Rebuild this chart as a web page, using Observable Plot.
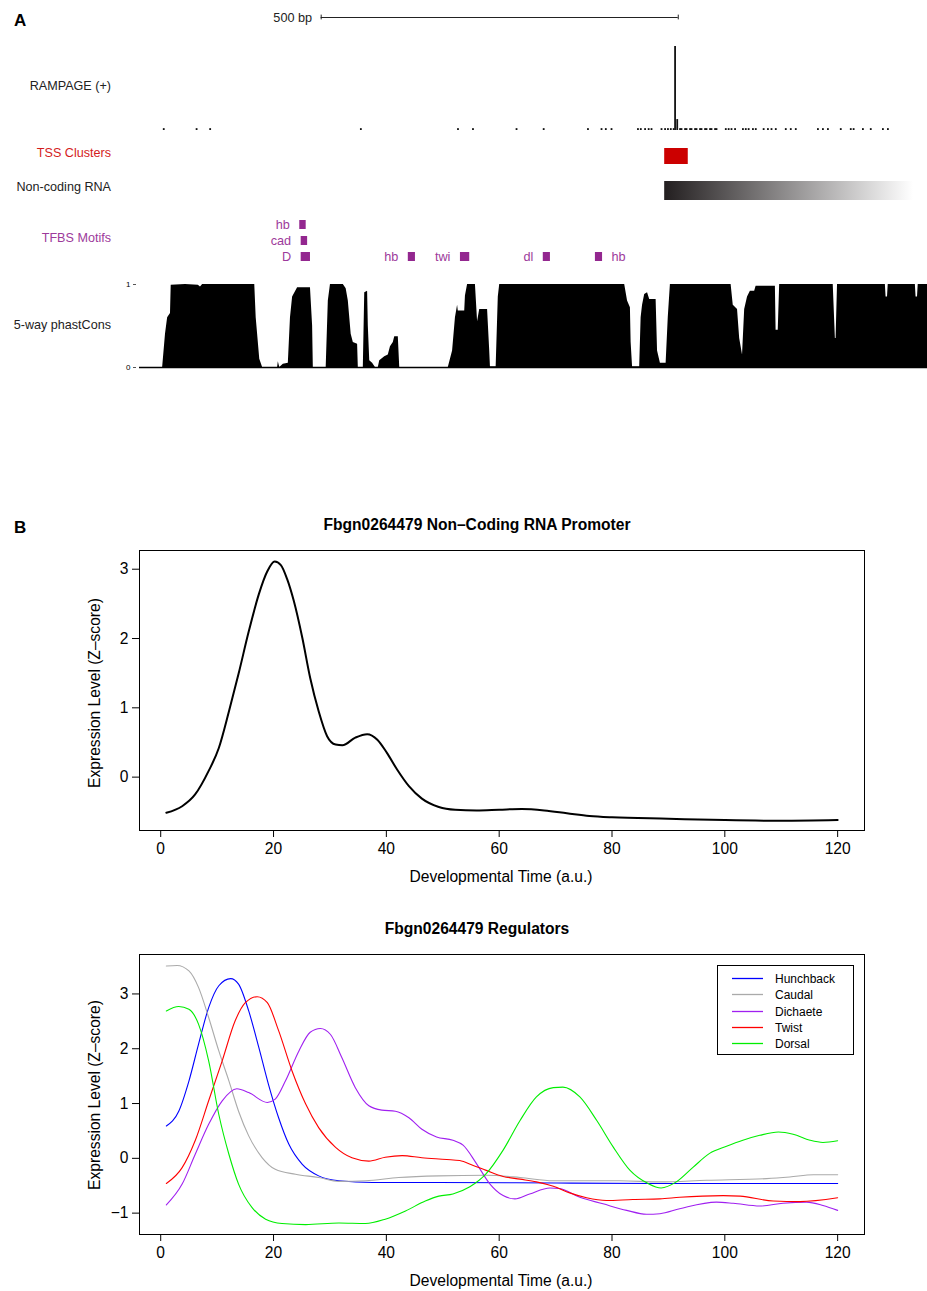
<!DOCTYPE html>
<html><head><meta charset="utf-8">
<script src="https://cdn.jsdelivr.net/npm/d3@7"></script>
<script src="https://cdn.jsdelivr.net/npm/@observablehq/plot@0.6"></script>
<style>
body{margin:0;background:#fff;}
#page{position:relative;width:927px;height:1291px;overflow:hidden;font-family:"Liberation Sans",Arial,Helvetica,sans-serif;color:#000;}
.t{position:absolute;white-space:nowrap;line-height:1;}
</style></head><body><div id="page"></div>
<script>
// ---------------- DATA ----------------
// Panel A: genome browser (positions in bp from left edge of the window)
const trackLen = 1102;
const scaleBarStart = 253, scaleBarLen = 500, scaleBarLabel = "500 bp";
const trackNames = ["RAMPAGE (+)", "TSS Clusters", "Non-coding RNA", "TFBS Motifs", "5-way phastCons"];
const rampageBin = 2.5;
const rampageSignal = [[32,2.2],[78,2.2],[97,2.2],[308,2.2],[444,2.2],[465,2.2],[526,2.2],[564,2.2],[626,2.2],[645,2.2],[651,2.2],[659,2.2],[696,2.2],[700,2.2],[706,2.2],[711,2.2],[715,2.2],[729,2.2],[734,2.2],[738,2.2],[742,2.2],[746,2.2],[748,100],[751,13],[755,2.2],[757,2.2],[762,2.2],[764,2.2],[769,2.2],[771,2.2],[776,2.2],[778,2.2],[783,2.2],[785,2.2],[790,2.2],[792,2.2],[797,2.2],[799,2.2],[804,2.2],[806,2.2],[819,2.2],[823,2.2],[827,2.2],[832,2.2],[843,2.2],[847,2.2],[851,2.2],[857,2.2],[861,2.2],[872,2.2],[878,2.2],[883,2.2],[889,2.2],[903,2.2],[910,2.2],[917,2.2],[948,2.2],[955,2.2],[962,2.2],[980,2.2],[994,2.2],[998,2.2],[1011,2.2],[1022,2.2],[1039,2.2],[1046,2.2]];
const tssClusters = [{start:734, end:767}];
const ncRNA = [{start:734, end:1102}];
const motifNames = ["hb","cad","D","hb","twi","dl","hb"];
const motifStart = [223,225,225,375,448,564,637];
const motifEnd   = [232,234,238,385,461,574,647];
const motifRow   = [0,1,2,2,2,2,2];
const motifLabelSide = ["left","left","left","left","left","left","right"];
const phastCons = [[0,0],[31,0],[35,0.4],[38,0.6],[42,0.65],[43,0.99],[63,1],[81,0.99],[84,0.97],[87,1],[160,1],[162,0.6],[167,0.1],[171,0],[192,0],[193,0.07],[195,0],[200,0.04],[207,0.05],[210,0.6],[213,0.85],[220,0.96],[238,0.96],[241,0.5],[242,0],[260,0],[263,0.8],[266,1],[284,1],[288,0.95],[291,0.8],[295,0.4],[298,0.3],[304,0.28],[305,0],[312,0],[314,0.9],[318,0.92],[319,0.5],[321,0.08],[325,0.05],[329,0],[333,0],[335,0.08],[342,0.13],[347,0.15],[350,0.25],[354,0.3],[356,0.37],[361,0.37],[363,0],[431,0],[437,0.2],[441,0.6],[444,0.75],[445,0.68],[454,0.68],[455,0.86],[458,1],[469,1],[472,0.55],[475,0.7],[486,0.7],[489,0.2],[490,0.01],[498,0.01],[501,0.85],[503,1],[678,1],[682,0.8],[686,0.72],[687,0.3],[689,0.01],[699,0.01],[701,0.6],[703,0.75],[706,0.88],[710,0.9],[713,0.82],[722,0.82],[724,0.2],[728,0.05],[736,0.05],[739,0.6],[742,1],[827,1],[830,0.75],[836,0.7],[839,0.35],[843,0.15],[846,0.7],[850,0.85],[854,0.92],[860,0.92],[862,0.98],[889,0.98],[890,0.45],[893,0.45],[895,1],[970,1],[973,0.35],[974,0.35],[976,1],[1043,1],[1044,0.85],[1046,0.85],[1047,1],[1085,1],[1086,0.85],[1088,0.85],[1089,1],[1102,1]];
const phastTicks = [0, 1];

// Panel B
const titleB1 = "Fbgn0264479 Non\u2013Coding RNA Promoter";
const titleB2 = "Fbgn0264479 Regulators";
const xLabel = "Developmental Time (a.u.)";
const yLabel = "Expression Level (Z\u2013score)";
const xTicks = [0,20,40,60,80,100,120];
const yTicksB1 = [0,1,2,3];
const yTicksB2 = [-1,0,1,2,3];
const promoter = [[1,-0.515],[3.8,-0.42],[6.1,-0.25],[8.5,0.09],[10.3,0.42],[12.1,0.95],[13.8,1.49],[15.6,2.1],[17.4,2.64],[18.9,2.97],[20.2,3.11],[21.3,3.06],[22.4,2.86],[23.6,2.54],[25.1,2.01],[26.5,1.43],[28,0.95],[29.5,0.59],[31,0.47],[32.2,0.46],[34.5,0.57],[36.6,0.62],[38.4,0.54],[40.1,0.35],[41.9,0.11],[44,-0.13],[46.3,-0.31],[49.3,-0.43],[52.2,-0.47],[56,-0.48],[60,-0.47],[64,-0.46],[68,-0.48],[72,-0.52],[76,-0.56],[80,-0.58],[90,-0.6],[100,-0.62],[110,-0.63],[120,-0.62]];
const seriesNames = ["Hunchback","Caudal","Dichaete","Twist","Dorsal"];
const seriesColors = ["#0000ff","#aaaaaa","#a020f0","#ff0000","#00ee00"];
const hunchback = [[1,0.59],[3.2,0.86],[5,1.41],[6.7,2.08],[8.5,2.75],[10.3,3.15],[12.4,3.28],[13.8,3.18],[15.6,2.69],[17.4,2.02],[19.1,1.35],[20.9,0.74],[22.7,0.26],[25.1,-0.11],[28,-0.32],[31.6,-0.41],[37.5,-0.44],[49,-0.44],[70,-0.45],[90,-0.46],[120,-0.46]];
const caudal = [[1,3.51],[2.9,3.52],[5,3.42],[6.7,3.12],[8.5,2.57],[10.3,1.96],[12.1,1.41],[13.8,0.86],[15.6,0.41],[18,0.01],[20.3,-0.2],[23.9,-0.29],[28,-0.35],[31.6,-0.42],[36.3,-0.41],[42.2,-0.35],[49.3,-0.32],[57.7,-0.31],[63.7,-0.35],[69.6,-0.41],[81.4,-0.41],[88.5,-0.43],[96.8,-0.4],[107.4,-0.37],[111.5,-0.34],[115.7,-0.3],[120,-0.3]];
const dichaete = [[1,-0.85],[3.8,-0.47],[6.1,0.07],[8.5,0.62],[10.9,1.05],[13.5,1.27],[15.6,1.2],[18.9,1.02],[20.3,1.08],[22.1,1.41],[24.5,1.96],[26.5,2.3],[28.3,2.37],[30.1,2.26],[32.1,1.84],[34.5,1.29],[36.9,0.96],[39.2,0.88],[41.6,0.86],[44,0.74],[46.3,0.53],[48.9,0.39],[51.8,0.33],[53.6,0.24],[56,-0.1],[58.3,-0.46],[60.7,-0.68],[62.8,-0.74],[65.4,-0.65],[69,-0.54],[70.7,-0.55],[74.3,-0.71],[78.4,-0.83],[82.6,-0.95],[86.1,-1.02],[88.5,-1.01],[92,-0.92],[98.5,-0.8],[101.5,-0.82],[106.2,-0.87],[110.3,-0.82],[114.5,-0.8],[117.4,-0.86],[120,-0.95]];
const twist = [[1,-0.46],[3.8,-0.17],[6.1,0.32],[8.5,1.05],[10.9,1.78],[13.2,2.51],[15,2.84],[17.1,2.95],[18.9,2.84],[20.9,2.33],[23.3,1.59],[25.7,0.99],[28,0.56],[31,0.2],[33.9,0.01],[36.9,-0.05],[39.8,0.02],[42.8,0.05],[46.3,0.01],[50.7,-0.02],[53,-0.04],[55.4,-0.13],[57.7,-0.22],[60.7,-0.33],[63.7,-0.38],[66.6,-0.43],[69.6,-0.51],[72.5,-0.63],[75.5,-0.72],[79,-0.77],[83.7,-0.75],[88.5,-0.74],[92,-0.71],[99.7,-0.68],[102.7,-0.69],[108.6,-0.78],[113.3,-0.79],[120,-0.72]];
const dorsal = [[1,2.69],[3.2,2.77],[5,2.72],[6.7,2.45],[8.5,1.78],[10.3,0.8],[12.1,0.07],[13.8,-0.47],[16.2,-0.9],[18.6,-1.11],[21.5,-1.19],[25.7,-1.21],[31.6,-1.18],[36.3,-1.19],[39.8,-1.11],[43.4,-0.96],[46.9,-0.78],[49.3,-0.69],[51.8,-0.65],[54.8,-0.52],[57.7,-0.28],[60.7,0.15],[63.7,0.69],[66.6,1.12],[69.6,1.29],[71.3,1.3],[74.3,1.12],[77.3,0.69],[80.2,0.21],[83.2,-0.22],[86.4,-0.46],[88.7,-0.54],[91.4,-0.43],[94.4,-0.16],[97.3,0.09],[100.3,0.22],[103.2,0.33],[106.2,0.42],[109.5,0.48],[112.1,0.44],[115.1,0.33],[117.4,0.29],[120,0.32]];
const regulatorSeries = [hunchback, caudal, dichaete, twist, dorsal];

// ---------------- RENDER ----------------
const FONT = '"Liberation Sans", Arial, Helvetica, sans-serif';
const SVGNS = "http://www.w3.org/2000/svg";
const page = document.getElementById("page");
const MOTIF = "#93278f", MOTIF_TXT = "#9d3a9b", TSS_RED = "#cc0000";
const CURVE = "monotone-x";

function place(svg, top) { svg.style.position = "absolute"; svg.style.left = "0px"; svg.style.top = top + "px"; page.appendChild(svg); return svg; }
function label(text, x, y, anchor, style) {
  const d = document.createElement("div"); d.className = "t"; d.textContent = text;
  d.style.left = x + "px"; d.style.top = y + "px";
  const tx = anchor === "end" ? "-100%" : anchor === "middle" ? "-50%" : "0";
  d.style.transform = `translate(${tx},-50%)` + (style && style.rot ? " rotate(-90deg)" : "");
  if (style) { const s = {...style}; delete s.rot; Object.assign(d.style, s); }
  page.appendChild(d); return d;
}
const gstyle = {fontFamily: FONT, background: "transparent", overflow: "visible", fontSize: "12.7px"};
const gx = {domain: [0, trackLen], axis: null};

// scale bar
place(Plot.plot({
  width: 927, height: 34, marginLeft: 140, marginRight: 0, marginTop: 0, marginBottom: 0,
  x: gx, y: {domain: [0, 1], axis: null}, style: gstyle,
  marks: [
    Plot.ruleY([{y: 0.5, a: scaleBarStart, b: scaleBarStart + scaleBarLen}], {y: "y", x1: "a", x2: "b", stroke: "#222"}),
    Plot.ruleX([scaleBarStart, scaleBarStart + scaleBarLen], {y1: 0.43, y2: 0.57, stroke: "#222"}),
    Plot.text([scaleBarLabel], {x: scaleBarStart, y: 0.5, text: d => d, textAnchor: "end", dx: -9, fill: "#222", fontSize: 12.7})
  ]
}), 0);

// RAMPAGE
place(Plot.plot({
  width: 927, height: 95, marginLeft: 140, marginRight: 0, marginTop: 6, marginBottom: 5,
  x: gx, y: {domain: [0, 100], axis: null}, style: gstyle,
  marks: [Plot.rectY(rampageSignal, {x1: d => d[0], x2: d => d[0] + rampageBin, y: d => d[1], fill: "#111"})]
}), 40);

// TSS clusters
place(Plot.plot({
  width: 927, height: 30, marginLeft: 140, marginRight: 0, marginTop: 8, marginBottom: 6,
  x: gx, y: {domain: [0, 1], axis: null}, style: gstyle,
  marks: [Plot.rect(tssClusters, {x1: "start", x2: "end", y1: 0, y2: 1, fill: TSS_RED})]
}), 140);

// Non-coding RNA (gradient)
const ncSvg = Plot.plot({
  width: 927, height: 30, marginLeft: 140, marginRight: 0, marginTop: 6, marginBottom: 5,
  x: gx, y: {domain: [0, 1], axis: null}, style: gstyle,
  marks: [Plot.rect(ncRNA, {x1: "start", x2: "end", y1: 0, y2: 1, fill: "url(#ncgrad)"})]
});
const defs = document.createElementNS(SVGNS, "defs");
defs.innerHTML = '<linearGradient id="ncgrad" x1="0" x2="1" y1="0" y2="0"><stop offset="0" stop-color="#231f20"/><stop offset="0.947" stop-color="#ffffff"/></linearGradient>';
ncSvg.insertBefore(defs, ncSvg.firstChild);
place(ncSvg, 175);

// TFBS motifs
const motifs = motifNames.map((name, i) => ({name, start: motifStart[i], end: motifEnd[i], row: motifRow[i], side: motifLabelSide[i]}));
place(Plot.plot({
  width: 927, height: 60, marginLeft: 140, marginRight: 0, marginTop: 0.5, marginBottom: 2.5,
  x: gx, y: {type: "band", domain: [0, 1, 2], padding: 0.455, axis: null}, style: gstyle,
  marks: [
    Plot.barX(motifs, {x1: "start", x2: "end", y: "row", fill: MOTIF}),
    Plot.text(motifs.filter(d => d.side === "left"), {x: "start", y: "row", text: "name", textAnchor: "end", dx: -10, fill: MOTIF_TXT, fontSize: 12.7}),
    Plot.text(motifs.filter(d => d.side === "right"), {x: "end", y: "row", text: "name", textAnchor: "start", dx: 9, fill: MOTIF_TXT, fontSize: 12.7})
  ]
}), 211);

// phastCons
place(Plot.plot({
  width: 927, height: 100, marginLeft: 140, marginRight: 0, marginTop: 9, marginBottom: 8,
  x: gx, y: {domain: [0, 1]}, style: gstyle,
  marks: [
    Plot.areaY(phastCons, {x: d => d[0], y: d => d[1], fill: "#000", curve: "linear"}),
    Plot.ruleY([0], {stroke: "#000", strokeWidth: 1.5, x1: -1.4, x2: trackLen}),
    Plot.axisY(phastTicks, {anchor: "left", tickSize: 3, tickPadding: 3, dx: -4, fontSize: 8, label: null, tickFormat: "d", stroke: "#555", fill: "#000"})
  ]
}), 275);

// Panel B plots
const fmt = d => d < 0 ? "\u2212" + Math.abs(d) : String(d);
const bstyle = {fontFamily: FONT, background: "transparent", overflow: "visible", fontSize: "15.6px"};
const bx = {domain: [-3.76, 124.76]};

place(Plot.plot({
  width: 927, height: 390, marginLeft: 139, marginRight: 63, marginTop: 45, marginBottom: 65,
  x: bx, y: {domain: [-0.77, 3.27]}, style: bstyle,
  marks: [
    Plot.frame({stroke: "#000"}),
    Plot.line(promoter, {x: d => d[0], y: d => d[1], stroke: "#000", strokeWidth: 2, curve: CURVE}),
    Plot.axisX(xTicks, {tickSize: 7, tickPadding: 5, label: null}),
    Plot.axisY(yTicksB1, {tickSize: 7, tickPadding: 4, label: null, tickFormat: fmt})
  ]
}), 505);

const regRows = regulatorSeries.flatMap((s, i) => s.map(([t, v]) => ({t, v, name: seriesNames[i]})));
place(Plot.plot({
  width: 927, height: 386, marginLeft: 139, marginRight: 63, marginTop: 49, marginBottom: 57,
  x: bx, y: {domain: [-1.39, 3.72]}, style: bstyle,
  color: {domain: seriesNames, range: seriesColors},
  marks: [
    Plot.frame({stroke: "#000"}),
    Plot.line(regRows, {x: "t", y: "v", z: "name", stroke: "name", strokeWidth: 1.1, curve: CURVE}),
    Plot.axisX(xTicks, {tickSize: 7, tickPadding: 5, label: null}),
    Plot.axisY(yTicksB2, {tickSize: 7, tickPadding: 4, label: null, tickFormat: fmt})
  ]
}), 905);

// Legend (box with line swatches)
const lg = document.createElement("div");
Object.assign(lg.style, {position: "absolute", left: "717px", top: "965px", width: "137px", height: "90px", boxSizing: "border-box", border: "1px solid #000", background: "#fff"});
const lsvg = document.createElementNS(SVGNS, "svg");
lsvg.setAttribute("width", "135"); lsvg.setAttribute("height", "88");
Object.assign(lsvg.style, {position: "absolute", left: "0px", top: "0px", overflow: "visible"});
seriesNames.forEach((n, i) => {
  const yy = 12.5 + Math.round(i * 16.3);
  const ln = document.createElementNS(SVGNS, "line");
  ln.setAttribute("x1", "14"); ln.setAttribute("x2", "45");
  ln.setAttribute("y1", yy); ln.setAttribute("y2", yy);
  ln.setAttribute("stroke", seriesColors[i]); ln.setAttribute("stroke-width", "1.3");
  lsvg.appendChild(ln);
  const tx = document.createElementNS(SVGNS, "text");
  tx.setAttribute("x", "57"); tx.setAttribute("y", yy); tx.setAttribute("dy", "0.35em");
  tx.setAttribute("font-size", "12"); tx.setAttribute("font-family", FONT);
  tx.textContent = n;
  lsvg.appendChild(tx);
});
lg.appendChild(lsvg);
page.appendChild(lg);

// Text labels
label("A", 14, 20, "start", {fontWeight: "bold", fontSize: "17px"});
label("B", 14, 527, "start", {fontWeight: "bold", fontSize: "17px"});
const trackY = [86, 153, 187, 238, 325];
const trackColor = ["#222", "#d41c1c", "#222", MOTIF_TXT, "#222"];
trackNames.forEach((n, i) => label(n, 111, trackY[i], "end", {fontSize: "12.6px", color: trackColor[i]}));
label(titleB1, 477, 525, "middle", {fontWeight: "bold", fontSize: "15.6px"});
label(titleB2, 477, 929, "middle", {fontWeight: "bold", fontSize: "15.6px"});
label(xLabel, 501, 877, "middle", {fontSize: "15.6px"});
label(xLabel, 501, 1281, "middle", {fontSize: "15.6px"});
label(yLabel, 95, 693, "middle", {fontSize: "15.6px", rot: true});
label(yLabel, 95, 1095, "middle", {fontSize: "15.6px", rot: true});
</script></body></html>
